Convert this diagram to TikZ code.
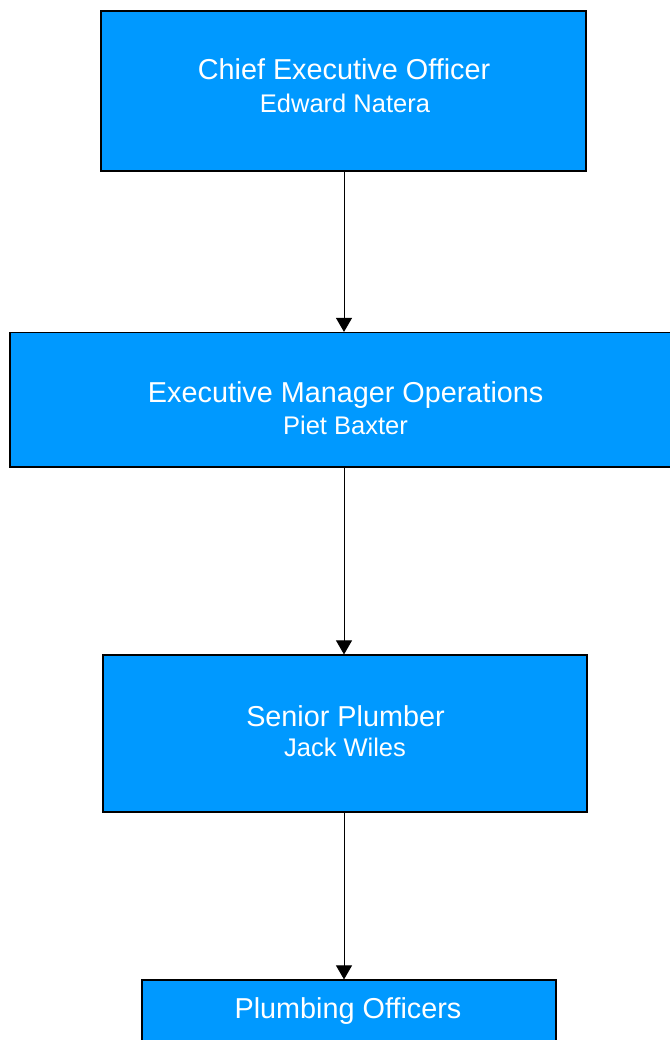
\documentclass[tikz,border=0pt]{standalone}
\usepackage{fontspec}
\setmainfont{Liberation Sans}
\usetikzlibrary{arrows.meta}
\definecolor{boxblue}{RGB}{0,153,255}
\begin{document}
\begin{tikzpicture}[x=1pt,y=1pt,
  orgbox/.style={draw=black,line width=1.2pt,fill=boxblue,inner sep=0pt},
  ttl/.style={text=white,font=\fontsize{28.8}{33}\selectfont,inner sep=0pt,anchor=base},
  sub/.style={text=white,font=\fontsize{25.5}{30}\selectfont,inner sep=0pt,anchor=base},
  conn/.style={line width=0.9pt,-{Triangle[width=16pt,length=14pt]}}]
\useasboundingbox (0,0) rectangle (669,-1040);
\node[orgbox,minimum width=485pt,minimum height=160pt] (ceo) at (343.5,-91) {};
\node[orgbox,minimum width=670pt,minimum height=134.5pt] (emo) at (345,-399.75) {};
\node[orgbox,minimum width=484pt,minimum height=157pt] (sp) at (345,-733.5) {};
\node[orgbox,minimum width=414pt,minimum height=80pt] (po) at (349,-1020) {};
\node[ttl] (ceot) at (344,-79.5) {Chief Executive Officer};
\node[sub] (ceon) at (345,-112.7) {Edward Natera};
\node[ttl] (emot) at (345.7,-402) {Executive Manager Operations};
\node[sub] (emon) at (345.5,-434) {Piet Baxter};
\node[ttl] (spt) at (345.5,-726) {Senior Plumber};
\node[sub] (spn) at (345,-756) {Jack Wiles};
\node[ttl] (pot) at (348,-1018) {Plumbing Officers};
\draw[conn] (344,0 |- ceo.south) coordinate (c1) -- (c1 |- emo.north);
\draw[conn] (344,0 |- emo.south) coordinate (c2) -- (c2 |- sp.north);
\draw[conn] (344,0 |- sp.south) coordinate (c3) -- (c3 |- po.north);
\end{tikzpicture}
\end{document}
